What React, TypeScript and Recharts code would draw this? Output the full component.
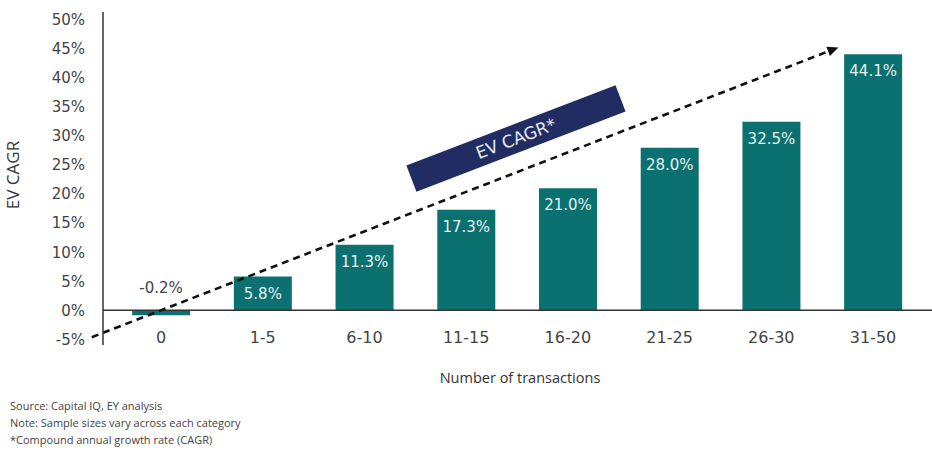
import { ComposedChart, Bar, XAxis, YAxis, ReferenceLine, ReferenceDot, LabelList } from "recharts";

const categories = ["0", "1-5", "6-10", "11-15", "16-20", "21-25", "26-30", "31-50"];
const cagr = [-0.2, 5.8, 11.3, 17.3, 21.0, 28.0, 32.5, 44.1];
const yTicks = [-5, 0, 5, 10, 15, 20, 25, 30, 35, 40, 45, 50];

// dashed trend arrow, in (category index, %) coordinates
const arrowStart = { x: -0.68, y: -4.65 };
const arrowEnd = { x: 6.66, y: 45.3 };
const bannerAt = { x: 3.49, y: 29.6 };
const bannerText = "EV CAGR*";

const footnotes = [
  "Source: Capital IQ, EY analysis",
  "Note: Sample sizes vary across each category",
  "*Compound annual growth rate (CAGR)",
];

const data = categories.map((name, i) => ({ idx: i, name, value: cagr[i] }));

const TEAL = "#0a7170";
const NAVY = "#212d62";
const NUM_FONT = "'DejaVu Sans', Verdana, sans-serif";
const TEXT_FONT = "'Open Sans', sans-serif";

const ValueLabel = (props: any) => {
  const { x, y, width, height, value } = props;
  const cx = x + width / 2;
  const top = Math.min(y, y + height);
  const txt = `${Number(value).toFixed(1)}%`;
  if (value < 0) {
    return (
      <text x={cx} y={top - 17} textAnchor="middle" fill="#444" fontSize={15} fontFamily={NUM_FONT}>
        {txt}
      </text>
    );
  }
  return (
    <text x={cx} y={top + 22} textAnchor="middle" fill="#e6f0ef" fontSize={15} fontFamily={NUM_FONT}>
      {txt}
    </text>
  );
};

const XTick = (props: any) => {
  const { x, y, payload } = props;
  return (
    <text x={x} y={y - 2} textAnchor="middle" fill="#444" fontSize={16} fontFamily={NUM_FONT}>
      {categories[payload.value]}
    </text>
  );
};

const Arrow = (props: any) => {
  const { x1, y1, x2, y2 } = props;
  const a = Math.atan2(y2 - y1, x2 - x1);
  const len = 11;
  const bx = x2 - len * Math.cos(a);
  const by = y2 - len * Math.sin(a);
  const px = -Math.sin(a) * 5;
  const py = Math.cos(a) * 5;
  return (
    <g>
      <line x1={x1} y1={y1} x2={bx} y2={by} stroke="#111" strokeWidth={2.6} strokeDasharray="7 5" />
      <polygon points={`${x2},${y2} ${bx + px},${by + py} ${bx - px},${by - py}`} fill="#111" />
    </g>
  );
};

const Banner = (props: any) => {
  const { cx, cy } = props;
  return (
    <g transform={`translate(${cx},${cy}) rotate(-21)`}>
      <rect x={-112} y={-14} width={224} height={28} fill={NAVY} />
      <text x={0} y={6} textAnchor="middle" fill="#e8e9f0" fontSize={17} fontFamily={NUM_FONT}>
        {bannerText}
      </text>
    </g>
  );
};

export default function App() {
  return (
    <div style={{ position: "absolute", left: 0, top: 0, width: 932, height: 450, background: "#fff" }}>
      <ComposedChart width={932} height={450} data={data} margin={{ top: 12, right: 0, bottom: 75, left: 43 }}>
        <XAxis
          type="number"
          dataKey="idx"
          domain={[-0.57, 7.58]}
          ticks={[0, 1, 2, 3, 4, 5, 6, 7]}
          axisLine={false}
          tickLine={false}
          tickSize={0}
          tickMargin={0}
          height={30}
          tick={<XTick />}
          label={() => (
            <text x={520} y={383} textAnchor="middle" fill="#333" fontSize={14.5} fontFamily={TEXT_FONT}>
              Number of transactions
            </text>
          )}
        />
        <YAxis
          type="number"
          domain={[-6, 51.4]}
          ticks={yTicks}
          tickFormatter={(v: number) => `${v}%`}
          axisLine={{ stroke: "#333", strokeWidth: 1.5 }}
          tickLine={false}
          tickSize={0}
          tickMargin={18}
          width={60}
          tick={{ fill: "#444", fontSize: 15, fontFamily: NUM_FONT }}
          label={() => (
            <text
              x={19}
              y={175}
              transform="rotate(-90 19 175)"
              textAnchor="middle"
              fill="#333"
              fontSize={17}
              fontFamily={TEXT_FONT}
            >
              EV CAGR
            </text>
          )}
        />
        <ReferenceLine y={0} stroke="#333" strokeWidth={1.5} />
        <Bar dataKey="value" fill={TEAL} barSize={58} minPointSize={5} isAnimationActive={false}>
          <LabelList dataKey="value" content={<ValueLabel />} />
        </Bar>
        <ReferenceLine
          segment={[arrowStart, arrowEnd]}
          ifOverflow="visible"
          shape={<Arrow />}
        />
        <ReferenceDot x={bannerAt.x} y={bannerAt.y} r={0} shape={<Banner />} />
      </ComposedChart>
      <div
        style={{
          position: "absolute",
          left: 10,
          top: 397,
          fontFamily: TEXT_FONT,
          fontSize: 11,
          lineHeight: "17px",
          color: "#444",
        }}
      >
        {footnotes.map((f) => (
          <div key={f}>{f}</div>
        ))}
      </div>
    </div>
  );
}
